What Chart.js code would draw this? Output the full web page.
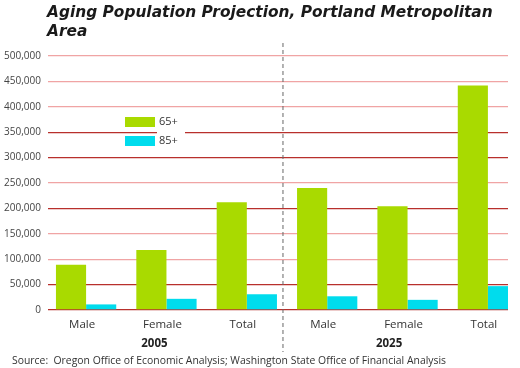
<!DOCTYPE html>
<html>
<head>
<meta charset="utf-8">
<script src="https://cdn.jsdelivr.net/npm/chart.js@4/dist/chart.umd.min.js"></script>
<style>
    html, body { margin: 0; padding: 0; background: #fff; }
    #wrap { position: relative; width: 520px; height: 368px; }
    #titulo {
        position: absolute; left: 47px; top: 3px;
        font: italic bold 15.4px "DejaVu Sans", sans-serif;
        line-height: 19px; color: #1a1a1a;
    }
    #fuente {
        position: absolute; left: 12px; top: 353px;
        font: 10.4px "Open Sans", sans-serif; color: #333;
        white-space: pre;
    }
</style>
</head>
<body>
<div id="wrap">
    <canvas id="grafica" width="520" height="368"></canvas>
    <div id="titulo">Aging Population Projection, Portland Metropolitan<br>Area</div>
    <div id="fuente">Source:  Oregon Office of Economic Analysis; Washington State Office of Financial Analysis</div>
</div>
<script>
const categorias = ['Male', 'Female', 'Total', 'Male', 'Female', 'Total'];
const grupos = ['2005', '2025'];
const mayores65 = [89000, 118000, 212000, 240000, 204000, 442000];
const mayores85 = [11000, 22000, 31000, 27000, 20000, 47000];
const series = ['65+', '85+'];
const lineasOscuras = [0, 50000, 200000, 300000, 350000];

const verde = '#a9da00';
const cian = '#00dced';

// dibuja leyenda, linea divisoria y etiquetas de grupo
const extras = {
    id: 'extras',
    afterDraw(chart) {
        const ctx = chart.ctx;
        const x = chart.scales.x;
        const area = chart.chartArea;
        ctx.save();

        // linea punteada entre 2005 y 2025
        const xDiv = x.getPixelForValue(2.45);
        ctx.strokeStyle = '#666';
        ctx.lineWidth = 1;
        ctx.setLineDash([4, 3]);
        ctx.beginPath();
        ctx.moveTo(xDiv, 43);
        ctx.lineTo(xDiv, 352);
        ctx.stroke();
        ctx.setLineDash([]);

        // leyenda
        ctx.fillStyle = '#fff';
        ctx.fillRect(157, 114, 28, 34);
        const colores = [verde, cian];
        ctx.font = '11px "Open Sans", sans-serif';
        ctx.textBaseline = 'middle';
        series.forEach((s, i) => {
            const y = 117 + i * 19;
            ctx.fillStyle = colores[i];
            ctx.fillRect(125, y, 30, 10);
            ctx.fillStyle = '#333';
            ctx.fillText(s, 159, y + 5);
        });

        // etiquetas de grupo
        ctx.font = 'bold 11.5px "Open Sans", sans-serif';
        ctx.fillStyle = '#222';
        ctx.textAlign = 'center';
        ctx.fillText(grupos[0], x.getPixelForValue(0.85), area.bottom + 34);
        ctx.fillText(grupos[1], x.getPixelForValue(3.77), area.bottom + 34);
        ctx.restore();
    }
};

const ctx = document.getElementById('grafica').getContext('2d');
new Chart(ctx, {
    type: 'bar',
    data: {
        datasets: [
            {
                label: series[0],
                data: mayores65.map((v, i) => ({ x: i, y: v })),
                backgroundColor: verde,
                borderWidth: 0
            },
            {
                label: series[1],
                data: mayores85.map((v, i) => ({ x: i, y: v })),
                backgroundColor: cian,
                borderWidth: 0
            }
        ]
    },
    options: {
        responsive: false,
        animation: false,
        layout: { padding: { top: 56, left: 0, right: 12, bottom: 0 } },
        plugins: {
            legend: { display: false },
            tooltip: { enabled: false }
        },
        datasets: {
            bar: { categoryPercentage: 0.75, barPercentage: 1 }
        },
        scales: {
            x: {
                type: 'linear',
                min: -0.474,
                max: 5.25,
                offset: false,
                afterBuildTicks: scale => {
                    scale.ticks = categorias.map((c, i) => ({ value: i }));
                },
                afterFit: scale => { scale.height = 58; },
                ticks: {
                    autoSkip: false,
                    maxRotation: 0,
                    padding: 0,
                    labelOffset: -4,
                    color: '#333',
                    font: { family: 'Open Sans', size: 11.5 },
                    callback: v => categorias[v]
                },
                grid: { display: false },
                border: { display: false }
            },
            y: {
                min: 0,
                max: 500000,
                z: 1,
                afterFit: scale => { scale.width = 48; },
                ticks: {
                    stepSize: 50000,
                    padding: 7,
                    color: '#444',
                    font: { family: 'Open Sans', size: 10 },
                    callback: v => v.toLocaleString('en-US')
                },
                grid: {
                    drawTicks: false,
                    lineWidth: 1.3,
                    color: c => lineasOscuras.includes(c.tick.value) ? '#b8302c' : '#f0a4a4'
                },
                border: { display: false }
            }
        }
    },
    plugins: [extras]
});
</script>
</body>
</html>
